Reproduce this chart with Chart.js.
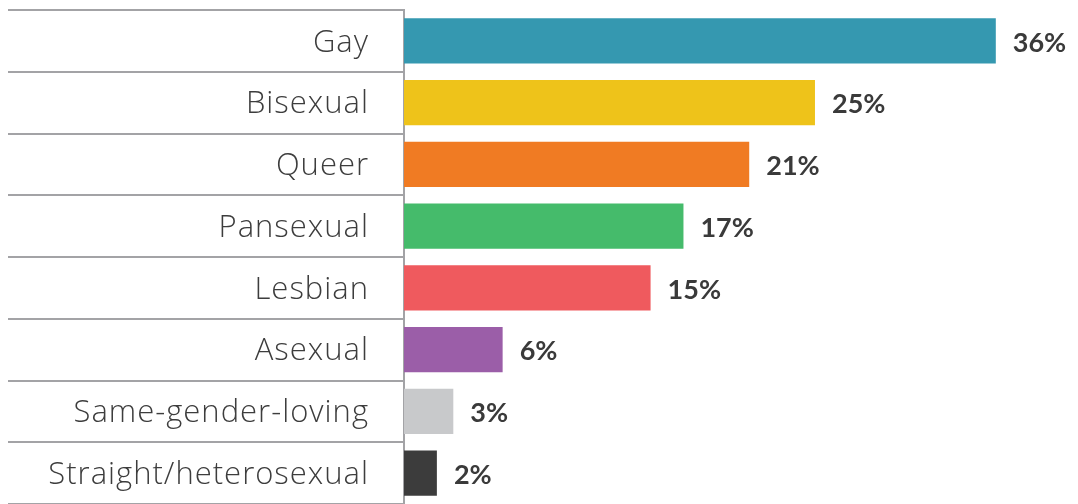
<!DOCTYPE html>
<html>
<head>
<meta charset="utf-8">
<script src="https://cdn.jsdelivr.net/npm/chart.js@4"></script>
<style>
html,body{margin:0;padding:0;background:#fff;}
#wrap{width:1078px;height:504px;}
</style>
</head>
<body>
<div id="wrap"><canvas id="c" width="1078" height="504"></canvas></div>
<script>
const categories = ["Gay","Bisexual","Queer","Pansexual","Lesbian","Asexual","Same-gender-loving","Straight/heterosexual"];
const values = [36,25,21,17,15,6,3,2];
const colors = ["#3598b0","#eec31a","#f07b23","#45bb6b","#ef5a5e","#9b5ea8","#c8c9cb","#3c3c3c"];
const valueLabels = ["36%","25%","21%","17%","15%","6%","3%","2%"];

const spacing = {
  id: 'spacing',
  beforeDraw(chart) { chart.ctx.letterSpacing = '1px'; }
};
const rowLines = {
  id: 'rowLines',
  afterDraw(chart) {
    const y = chart.scales.y, ctx = chart.ctx;
    ctx.save();
    ctx.strokeStyle = '#a3a3a6';
    ctx.lineWidth = 2;
    for (let i = 0; i <= categories.length; i++) {
      const py = Math.round(y.getPixelForValue(i - 0.5));
      ctx.beginPath();
      ctx.moveTo(8, py);
      ctx.lineTo(chart.chartArea.left, py);
      ctx.stroke();
    }
    ctx.restore();
  }
};
const valLabels = {
  id: 'valLabels',
  afterDatasetsDraw(chart) {
    const ctx = chart.ctx;
    const meta = chart.getDatasetMeta(0);
    ctx.save();
    ctx.letterSpacing = '0px';
    ctx.font = 'bold 27px Lato, "Open Sans", sans-serif';
    ctx.fillStyle = '#3a3a3a';
    ctx.textAlign = 'left';
    ctx.textBaseline = 'middle';
    meta.data.forEach((bar, i) => {
      ctx.fillText(valueLabels[i], bar.x + 17, bar.y + 2);
    });
    ctx.restore();
  }
};

new Chart(document.getElementById('c'), {
  type: 'bar',
  data: {
    labels: categories,
    datasets: [{ data: values, backgroundColor: colors, borderWidth: 0, categoryPercentage: 1, barPercentage: 0.73 }]
  },
  options: {
    indexAxis: 'y',
    responsive: false,
    animation: false,
    devicePixelRatio: 1,
    layout: { padding: { top: 10, right: 0, bottom: 0, left: 0 } },
    plugins: { legend: { display: false }, tooltip: { enabled: false } },
    scales: {
      x: { display: false, min: 0, max: 41 },
      y: {
        afterFit(s) { s.width = 404; s.paddingTop = 0; s.paddingBottom = 0; },
        grid: { display: false, drawTicks: false },
        border: { display: true, color: '#a3a3a6', width: 2 },
        ticks: { padding: 35, labelOffset: 2, color: '#3d3d3d', font: { family: '"Open Sans", sans-serif', weight: 300, size: 31 } }
      }
    }
  },
  plugins: [spacing, rowLines, valLabels]
});
</script>
</body>
</html>
